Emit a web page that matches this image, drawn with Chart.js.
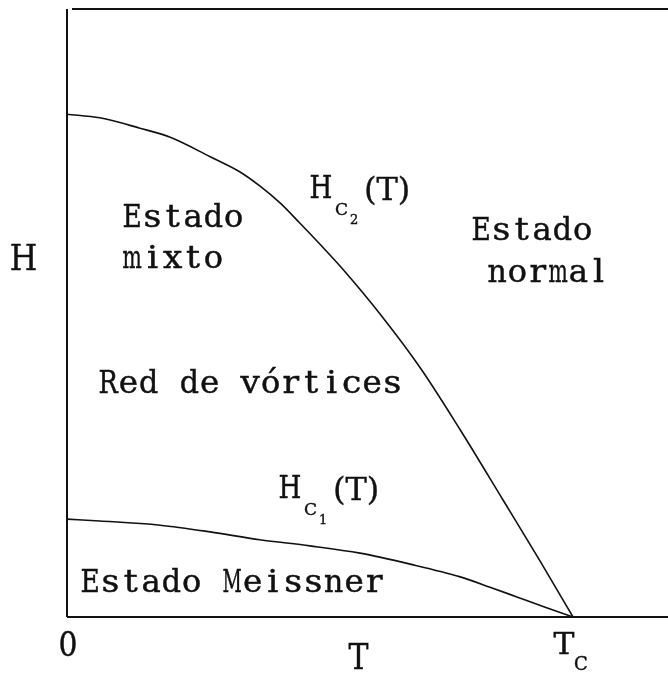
<!DOCTYPE html>
<html>
<head>
<meta charset="utf-8">
<script src="https://cdn.jsdelivr.net/npm/chart.js@4/dist/chart.umd.min.js"></script>
<style>
  html, body { margin: 0; padding: 0; background: #ffffff; }
  canvas { display: block; }
</style>
</head>
<body>
<canvas id="phase" width="668" height="673"></canvas>
<script>
// Reduced temperature T/Tc for the upper critical field curve, and H (fraction of axis height)
const hc2T = [0, 0.065, 0.144, 0.204, 0.283, 0.342, 0.381, 0.421, 0.460, 0.500, 0.543, 0.619, 0.698, 0.777, 0.862, 0.935, 1.0];
const hc2H = [0.827, 0.821, 0.804, 0.789, 0.757, 0.732, 0.709, 0.681, 0.648, 0.613, 0.574, 0.498, 0.410, 0.308, 0.192, 0.092, 0];

// Lower critical field curve
const hc1T = [0, 0.065, 0.184, 0.283, 0.381, 0.480, 0.579, 0.678, 0.777, 0.836, 0.889, 0.945, 1.0];
const hc1H = [0.161, 0.158, 0.151, 0.140, 0.127, 0.117, 0.105, 0.087, 0.066, 0.049, 0.033, 0.016, 0];

// Axis extents and tick positions
const tMax = 1.1877;
const hMax = 1.0;
const tickValues = [0, 1];
const tickLabels = ['0', 'T'];
const tickSub = ['', 'C'];

const FONT = '"DejaVu Serif", "Liberation Serif", serif';

// Draws text on a fixed character pitch: narrow glyphs are widened a little,
// glyphs wider than a cell are squeezed to fit it
function drawMono(ctx, text, left, baseline, size, cell) {
  ctx.save();
  ctx.font = size + 'px ' + FONT;
  ctx.textAlign = 'left';
  ctx.textBaseline = 'alphabetic';
  ctx.lineWidth = 0.45;
  for (let i = 0; i < text.length; i++) {
    const ch = text[i];
    if (ch === ' ') continue;
    const w = ctx.measureText(ch).width;
    const s = Math.min(1.12, (cell * 0.95) / w);
    const cx = left + cell * (i + 0.5);
    ctx.save();
    ctx.translate(cx, baseline);
    ctx.scale(s, 1);
    ctx.fillText(ch, -w / 2, 0);
    ctx.strokeText(ch, -w / 2, 0);
    ctx.restore();
  }
  ctx.restore();
}

function drawPlain(ctx, text, x, baseline, size) {
  ctx.save();
  ctx.font = size + 'px ' + FONT;
  ctx.textAlign = 'left';
  ctx.textBaseline = 'alphabetic';
  ctx.lineWidth = 0.4;
  ctx.fillText(text, x, baseline);
  ctx.strokeText(text, x, baseline);
  ctx.restore();
}

// H_{C_n}(T) label with nested subscripts
function drawCritical(ctx, left, baseline, digit) {
  drawMono(ctx, 'H', left, baseline, 31, 24);
  drawPlain(ctx, 'C', left + 26, baseline + 17, 17);
  drawPlain(ctx, digit, left + 41, baseline + 26, 13);
  drawPlain(ctx, '(T)', left + 55, baseline + 2, 32);
}

const diagramPlugin = {
  id: 'diagram',
  afterDatasetsDraw(chart) {
    const ctx = chart.ctx;
    const a = chart.chartArea;
    const xs = chart.scales.x;
    ctx.save();
    ctx.fillStyle = '#111111';
    ctx.strokeStyle = '#111111';

    // frame: left axis, bottom axis, top edge
    ctx.lineWidth = 2;
    ctx.beginPath();
    ctx.moveTo(a.left, a.top);
    ctx.lineTo(a.left, a.bottom);
    ctx.moveTo(a.left, a.bottom);
    ctx.lineTo(a.right, a.bottom);
    ctx.moveTo(a.left + 5, a.top);
    ctx.lineTo(a.right, a.top);
    ctx.stroke();

    // tick labels on the temperature axis
    tickValues.forEach((v, i) => {
      const px = xs.getPixelForValue(v);
      if (tickSub[i]) {
        drawMono(ctx, tickLabels[i], px - 20, a.bottom + 37, 30, 22);
        drawPlain(ctx, tickSub[i], px + 1, a.bottom + 53, 18);
      } else {
        drawMono(ctx, tickLabels[i], px - 9, a.bottom + 39, 33, 20);
      }
    });

    // axis titles
    drawMono(ctx, 'T', a.left + 281, a.bottom + 52, 36, 21);
    drawMono(ctx, 'H', 9, 270, 36, 29);

    // region names
    const cell = 20.3;
    drawMono(ctx, 'Estado', 122, 227, 31, cell);
    drawMono(ctx, 'mixto', 122, 268, 31, cell);
    drawMono(ctx, 'Estado', 471, 240, 31, cell);
    drawMono(ctx, 'normal', 487, 282, 31, cell);
    drawMono(ctx, 'Red de vórtices', 98, 393, 31, cell);
    drawMono(ctx, 'Estado Meissner', 80, 592, 31, cell);

    // curve labels
    drawCritical(ctx, 309, 198, '2');
    drawCritical(ctx, 278, 498, '1');

    ctx.restore();
  }
};

const toPoints = (ts, hs) => ts.map((t, i) => ({ x: t, y: hs[i] }));

new Chart(document.getElementById('phase'), {
  type: 'line',
  data: {
    datasets: [
      {
        label: 'Hc2(T)',
        data: toPoints(hc2T, hc2H),
        borderColor: '#111111',
        borderWidth: 1.6,
        pointRadius: 0,
        fill: false,
        cubicInterpolationMode: 'monotone'
      },
      {
        label: 'Hc1(T)',
        data: toPoints(hc1T, hc1H),
        borderColor: '#111111',
        borderWidth: 1.6,
        pointRadius: 0,
        fill: false,
        cubicInterpolationMode: 'monotone'
      }
    ]
  },
  options: {
    responsive: false,
    devicePixelRatio: 1,
    animation: false,
    layout: { padding: { left: 67, right: 0, top: 9, bottom: 56 } },
    scales: {
      x: { type: 'linear', min: 0, max: tMax, display: false },
      y: { type: 'linear', min: 0, max: hMax, display: false }
    },
    plugins: {
      legend: { display: false },
      tooltip: { enabled: false }
    }
  },
  plugins: [diagramPlugin]
});
</script>
</body>
</html>
